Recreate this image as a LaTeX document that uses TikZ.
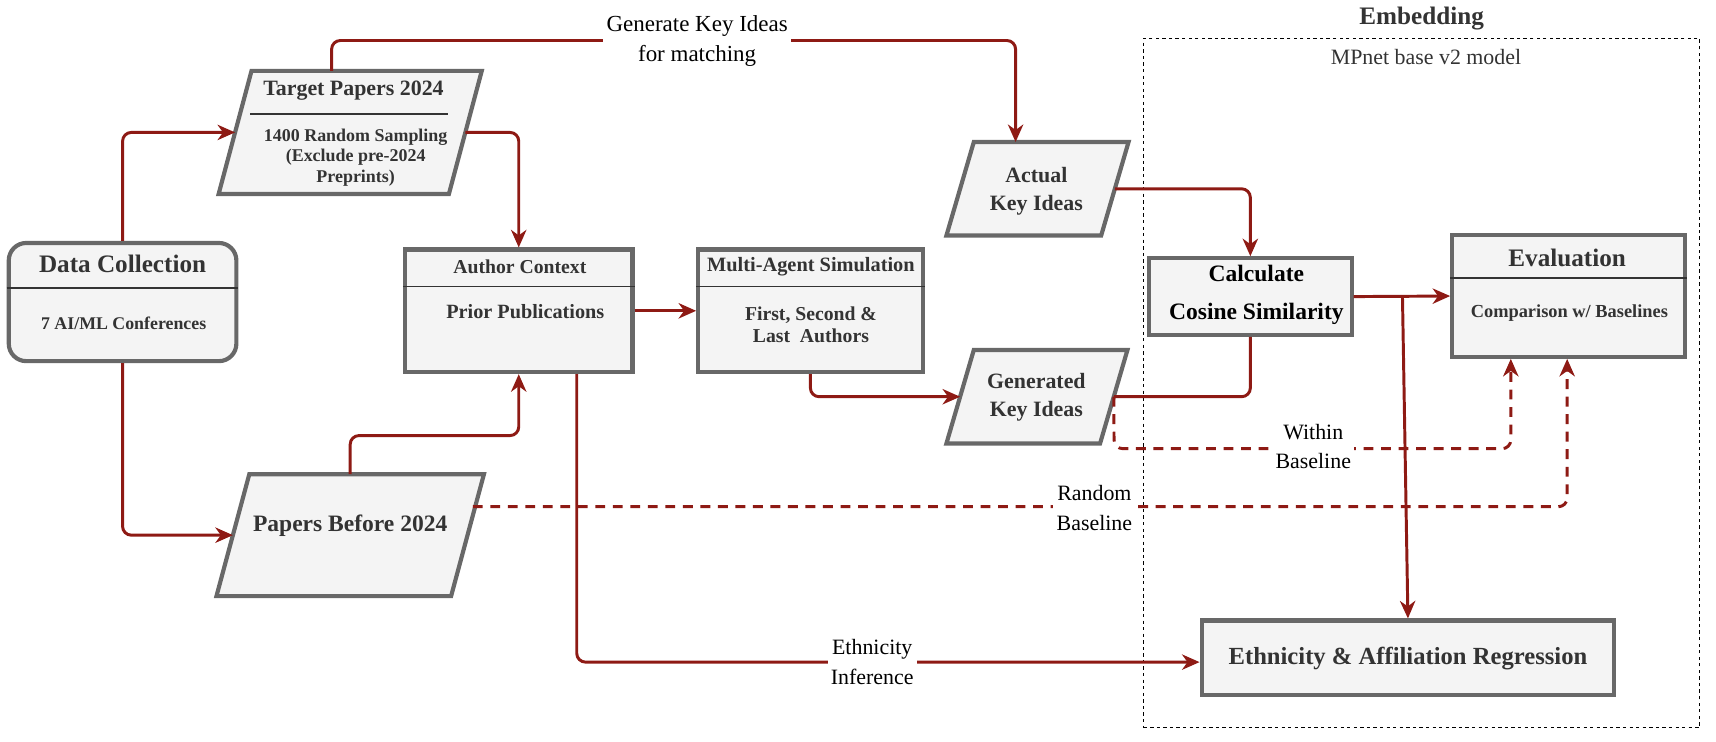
\documentclass[tikz,border=0pt]{standalone}
\usepackage{fontspec}
\setmainfont{Liberation Serif}
\usetikzlibrary{arrows.meta,calc}
\definecolor{ared}{RGB}{142,26,20}
\definecolor{boxfill}{RGB}{244,244,244}
\definecolor{boxline}{RGB}{104,104,104}
\definecolor{txt}{RGB}{51,51,51}
\newcommand{\myfs}[2]{\fontsize{#1}{#2}\selectfont}
\tikzset{
  box/.style={draw=boxline, fill=boxfill, line width=3.8pt, inner sep=0pt},
  pbox/.style={draw=none, inner sep=0pt},
  pshape/.style={draw=boxline, fill=boxfill, line width=3.8pt, line join=miter},
  divider/.style={draw=txt, line width=1.3pt},
  conn/.style={draw=ared, line width=2.7pt, rounded corners=8pt},
  arr/.style={conn, -{Stealth[length=16pt,width=14pt,inset=5pt]}},
  darr/.style={arr, dash pattern=on 9pt off 7pt},
  ttl/.style={font=\bfseries, text=txt, align=center, inner sep=0pt},
  lab/.style={fill=white, inner sep=3pt, align=center, text=black},
}
\begin{document}
\begin{tikzpicture}[x=1pt, y=-1pt]
\useasboundingbox (0,0) rectangle (1568,678);

% Embedding group
\node[ttl, font=\bfseries\myfs{23}{26}] (embt) at (1299,17) {Embedding};
\node[draw=black, line width=1.2pt, dash pattern=on 3pt off 3pt, minimum width=508pt, minimum height=630pt, inner sep=0pt] (emb) at (1299,350) {};
\node[inner sep=0pt, font=\myfs{20}{22}, text=txt] (mpnet) at (1303,52) {MPnet base v2 model};

% Data Collection
\node[box, rounded corners=16pt, minimum width=208pt, minimum height=108pt] (dc) at (112,276) {};
\draw[divider] ([yshift=13pt]dc.west) -- ([yshift=13pt]dc.east);
\node[ttl, font=\bfseries\myfs{23}{26}] (dct) at (112,241) {Data Collection};
\node[ttl, font=\bfseries\myfs{16.3}{19}] (dcb) at (113,295) {7 AI/ML Conferences};

% Target Papers 2024 (parallelogram)
\node[pbox, minimum width=210pt, minimum height=112pt] (tp) at (320,121) {};
\draw[pshape] ([xshift=15pt]tp.north west) -- ([xshift=15pt]tp.north east) -- ([xshift=-15pt]tp.south east) -- ([xshift=-15pt]tp.south west) -- cycle;
\draw[divider] ([xshift=14pt,yshift=17pt]tp.west) -- ([xshift=-16pt,yshift=17pt]tp.east);
\node[ttl, font=\bfseries\myfs{20}{22}] (tpt) at (323,83) {Target Papers 2024};
\node[ttl, font=\bfseries\myfs{16.4}{19}] (tpb) at (325,144) {1400 Random Sampling\\(Exclude pre-2024\\Preprints)};

% Papers Before 2024
\node[pbox, minimum width=214pt, minimum height=111pt] (pb) at (320,489) {};
\draw[pshape] ([xshift=15pt]pb.north west) -- ([xshift=15pt]pb.north east) -- ([xshift=-15pt]pb.south east) -- ([xshift=-15pt]pb.south west) -- cycle;
\node[ttl, font=\bfseries\myfs{21.5}{24}] (pbt) at (320,480) {Papers Before 2024};

% Author Context
\node[box, minimum width=208pt, minimum height=112pt] (ac) at (474,284) {};
\draw[divider] ([yshift=22pt]ac.west) -- ([yshift=22pt]ac.east);
\node[ttl, font=\bfseries\myfs{18}{20}] (act) at (475,244) {Author Context};
\node[ttl, font=\bfseries\myfs{18.5}{20}] (acb) at (480,285) {Prior Publications};

% Multi-Agent Simulation
\node[box, minimum width=205pt, minimum height=112pt] (mas) at (740.5,284) {};
\draw[divider] ([yshift=22pt]mas.west) -- ([yshift=22pt]mas.east);
\node[ttl, font=\bfseries\myfs{18.6}{20}] (mast) at (741,244) {Multi-Agent Simulation};
\node[ttl, font=\bfseries\myfs{18}{20.5}] (masb) at (741,297) {First, Second \&\\Last\ \ Authors};

% Actual Key Ideas
\node[pbox, minimum width=141pt, minimum height=85pt] (aki) at (948,172.5) {};
\draw[pshape] ([xshift=12.5pt]aki.north west) -- ([xshift=12.5pt]aki.north east) -- ([xshift=-12.5pt]aki.south east) -- ([xshift=-12.5pt]aki.south west) -- cycle;
\node[ttl, font=\bfseries\myfs{20}{26}] (akit) at (947,175) {Actual\\Key Ideas};

% Generated Key Ideas
\node[pbox, minimum width=140pt, minimum height=85pt] (gki) at (947.5,362.5) {};
\draw[pshape] ([xshift=12.5pt]gki.north west) -- ([xshift=12.5pt]gki.north east) -- ([xshift=-12.5pt]gki.south east) -- ([xshift=-12.5pt]gki.south west) -- cycle;
\node[ttl, font=\bfseries\myfs{20}{26}] (gkit) at (947,363) {Generated\\Key Ideas};

% Calculate Cosine Similarity
\node[box, minimum width=185pt, minimum height=70pt] (ccs) at (1142.5,271) {};
\node[ttl, text=black, font=\bfseries\myfs{21.5}{35}] (ccst) at (1148,269.5) {Calculate\\Cosine Similarity};

% Evaluation
\node[box, minimum width=213pt, minimum height=111pt] (ev) at (1433.5,270.5) {};
\draw[divider] ([yshift=16.5pt]ev.west) -- ([yshift=16.5pt]ev.east);
\node[ttl, font=\bfseries\myfs{23}{26}] (evt) at (1432,236) {Evaluation};
\node[ttl, font=\bfseries\myfs{16.8}{19}] (evb) at (1434,286) {Comparison w/ Baselines};

% Ethnicity & Affiliation Regression
\node[box, minimum width=377pt, minimum height=68pt] (ear) at (1286.5,601) {};
\node[ttl, font=\bfseries\myfs{22.5}{25}] (eart) at (1286.5,602) {Ethnicity \& Affiliation Regression};

% Connectors
\draw[arr] (dc.north) |- (tp.west);
\draw[arr] (dc.south) |- (pb.west);
\draw[arr] (tp.east) -| (ac.north);
\coordinate (pbup) at (320,398);
\draw[arr] (pb.north) -- (pbup) -| (ac.south);
\draw[arr] (ac.east) -- (mas.west);
\draw[arr] (mas.south) |- (gki.west);
\coordinate (gtop) at (928,37);
\draw[arr] ([xshift=-17pt]tp.north) |- (gtop) -- (aki.north -| gtop);
\node[lab, font=\myfs{21}{27}] (lgen) at (637,37.5) {Generate Key Ideas\\for matching};
\draw[arr] (aki.east) -| (ccs.north);
\draw[conn] (gki.east) -| (ccs.south);
\draw[arr] (ccs.east) -- (ev.west);
\coordinate (split) at (ccs.east -| ear.north);
\draw[arr] ([xshift=-5pt]split) -- (ear.north);
\coordinate (wcorner) at (1018,410);
\draw[darr] (gki.east) -- (wcorner) -| ([xshift=-53pt]ev.south);
\node[lab, font=\myfs{20}{27}] (lwithin) at (1200,408) {Within\\Baseline};
\coordinate (rstart) at (432,463);
\coordinate (rcorner) at (1432,463);
\draw[darr] (rstart) -- (rcorner) -- (rcorner |- ev.south);
\node[lab, font=\myfs{20}{27}] (lrandom) at (1000,464) {Random\\Baseline};
\coordinate (ethdown) at (527,605);
\draw[arr] ([xshift=53pt]ac.south) -- (ethdown) -- (ethdown -| ear.west);
\node[lab, font=\myfs{20}{27}] (leth) at (797,605) {Ethnicity\\Inference};
\end{tikzpicture}
\end{document}
